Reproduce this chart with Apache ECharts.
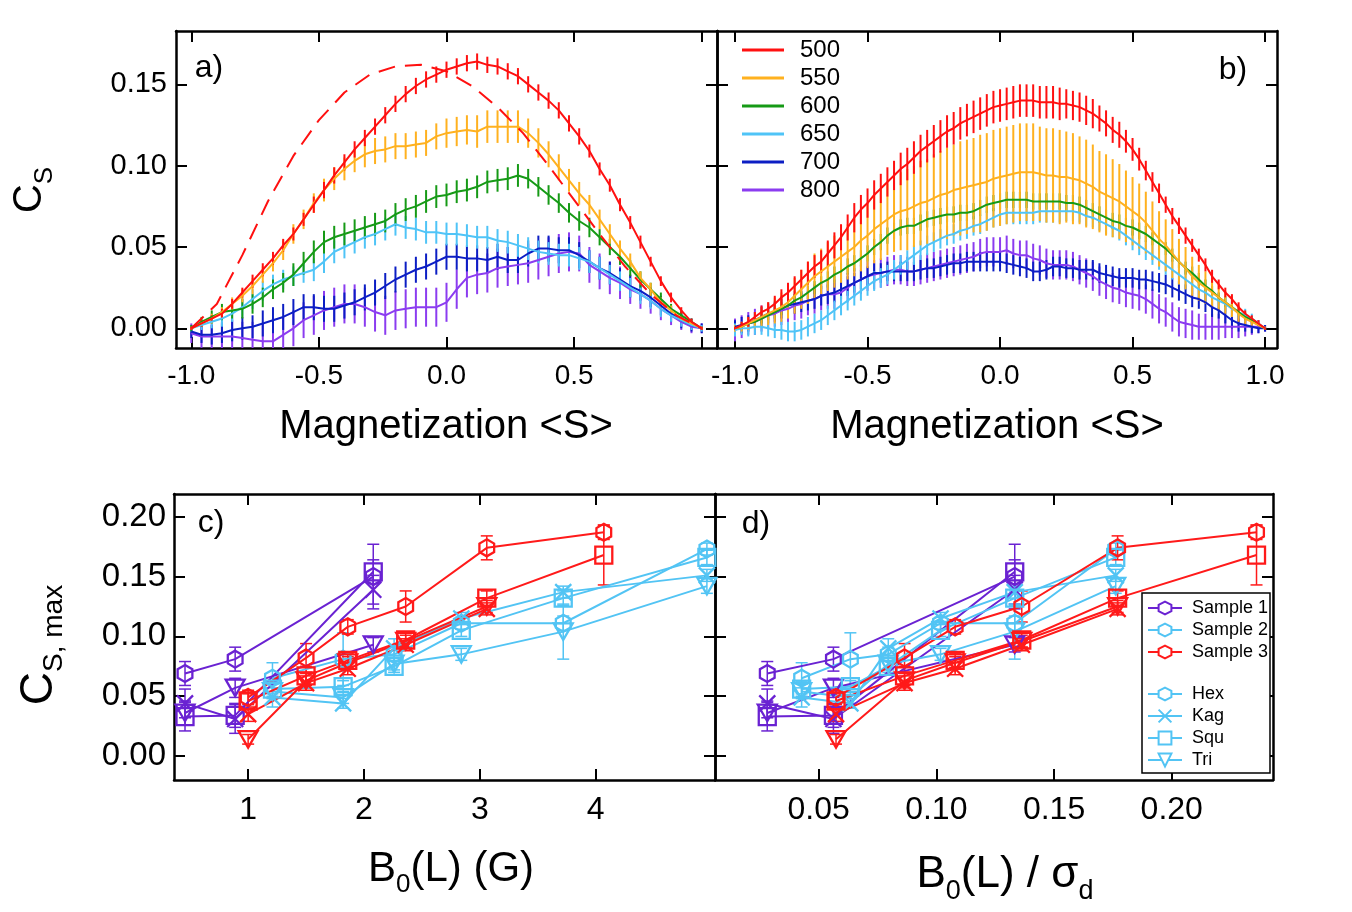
<!DOCTYPE html>
<html>
<head>
<meta charset="utf-8">
<script src="https://cdn.jsdelivr.net/npm/echarts/dist/echarts.min.js"></script>
<style>
html, body { margin: 0; padding: 0; background: #fff; }
#chart { width: 1352px; height: 912px; }
</style>
</head>
<body>
<div id="chart"></div>
<script>
// ---- panel a: C_S vs magnetization (field cooling temperatures) ----
const magA = [-1.00, -0.96, -0.92, -0.88, -0.84, -0.80, -0.76, -0.72, -0.68, -0.64,
  -0.60, -0.56, -0.52, -0.48, -0.44, -0.40, -0.36, -0.32, -0.28, -0.24,
  -0.20, -0.16, -0.12, -0.08, -0.04, 0.00, 0.04, 0.08, 0.12, 0.16,
  0.20, 0.24, 0.28, 0.32, 0.36, 0.40, 0.44, 0.48, 0.52, 0.56,
  0.60, 0.64, 0.68, 0.72, 0.76, 0.80, 0.84, 0.88, 0.92, 0.96, 1.00]

const a500 = [0.000, 0.003, 0.006, 0.009, 0.015, 0.022, 0.029, 0.036, 0.043, 0.051,
  0.058, 0.067, 0.076, 0.085, 0.094, 0.102, 0.110, 0.117, 0.124, 0.131,
  0.138, 0.144, 0.149, 0.153, 0.156, 0.159, 0.161, 0.163, 0.164, 0.162,
  0.161, 0.158, 0.155, 0.150, 0.145, 0.140, 0.134, 0.126, 0.118, 0.109,
  0.098, 0.088, 0.076, 0.065, 0.053, 0.041, 0.029, 0.019, 0.011, 0.004, 0.000]
const a500Err = [0.001, 0.002, 0.002, 0.003, 0.003, 0.003, 0.004, 0.004, 0.004, 0.004,
  0.004, 0.004, 0.005, 0.005, 0.005, 0.005, 0.005, 0.005, 0.005, 0.005,
  0.005, 0.005, 0.005, 0.005, 0.005, 0.005, 0.005, 0.005, 0.005, 0.005,
  0.005, 0.005, 0.005, 0.005, 0.005, 0.005, 0.005, 0.005, 0.005, 0.004,
  0.004, 0.004, 0.004, 0.004, 0.004, 0.003, 0.003, 0.003, 0.002, 0.002, 0.001]

const a550 = [0.000, 0.003, 0.006, 0.010, 0.015, 0.020, 0.026, 0.033, 0.040, 0.048,
  0.058, 0.067, 0.077, 0.085, 0.092, 0.098, 0.103, 0.107, 0.109, 0.110,
  0.112, 0.112, 0.113, 0.114, 0.118, 0.120, 0.121, 0.122, 0.121, 0.124,
  0.124, 0.124, 0.124, 0.120, 0.114, 0.107, 0.099, 0.091, 0.083, 0.076,
  0.067, 0.058, 0.049, 0.041, 0.031, 0.024, 0.016, 0.011, 0.006, 0.003, 0.000]
const a550Err = [0.001, 0.002, 0.003, 0.003, 0.004, 0.004, 0.005, 0.005, 0.005, 0.006,
  0.006, 0.006, 0.006, 0.007, 0.007, 0.007, 0.007, 0.008, 0.008, 0.008,
  0.008, 0.008, 0.008, 0.008, 0.008, 0.009, 0.009, 0.009, 0.010, 0.010,
  0.010, 0.010, 0.010, 0.009, 0.009, 0.008, 0.008, 0.007, 0.007, 0.006,
  0.006, 0.006, 0.005, 0.005, 0.004, 0.004, 0.003, 0.003, 0.002, 0.002, 0.001]

const a600 = [0.000, 0.004, 0.007, 0.010, 0.011, 0.012, 0.015, 0.019, 0.024, 0.028,
  0.033, 0.040, 0.047, 0.053, 0.056, 0.058, 0.060, 0.062, 0.064, 0.066,
  0.070, 0.073, 0.075, 0.078, 0.081, 0.082, 0.084, 0.085, 0.087, 0.090,
  0.091, 0.092, 0.094, 0.092, 0.087, 0.082, 0.077, 0.071, 0.066, 0.062,
  0.056, 0.050, 0.044, 0.037, 0.030, 0.024, 0.018, 0.012, 0.008, 0.004, 0.000]
const a600Err = [0.002, 0.003, 0.004, 0.005, 0.005, 0.006, 0.006, 0.006, 0.006, 0.006,
  0.007, 0.007, 0.007, 0.007, 0.007, 0.007, 0.007, 0.007, 0.007, 0.007,
  0.007, 0.007, 0.007, 0.007, 0.007, 0.007, 0.007, 0.007, 0.007, 0.007,
  0.007, 0.007, 0.007, 0.006, 0.006, 0.006, 0.006, 0.006, 0.006, 0.006,
  0.005, 0.005, 0.005, 0.005, 0.005, 0.004, 0.004, 0.003, 0.003, 0.002, 0.001]

const a650 = [0.000, 0.002, 0.004, 0.006, 0.009, 0.013, 0.018, 0.023, 0.027, 0.030,
  0.032, 0.034, 0.036, 0.041, 0.047, 0.050, 0.053, 0.056, 0.058, 0.061,
  0.064, 0.062, 0.061, 0.059, 0.059, 0.058, 0.058, 0.057, 0.056, 0.056,
  0.054, 0.053, 0.051, 0.049, 0.047, 0.046, 0.045, 0.045, 0.043, 0.041,
  0.037, 0.033, 0.029, 0.025, 0.021, 0.017, 0.012, 0.008, 0.005, 0.002, 0.000]
const a650Err = [0.002, 0.003, 0.004, 0.005, 0.005, 0.006, 0.006, 0.006, 0.006, 0.006,
  0.006, 0.006, 0.007, 0.007, 0.007, 0.007, 0.007, 0.007, 0.007, 0.007,
  0.007, 0.007, 0.007, 0.007, 0.007, 0.007, 0.007, 0.007, 0.007, 0.007,
  0.007, 0.007, 0.007, 0.007, 0.007, 0.007, 0.007, 0.007, 0.007, 0.007,
  0.007, 0.006, 0.006, 0.006, 0.006, 0.005, 0.005, 0.004, 0.004, 0.003, 0.002]

const a700 = [-0.002, -0.004, -0.004, -0.003, -0.001, 0.000, 0.001, 0.003, 0.005, 0.007,
  0.010, 0.013, 0.013, 0.012, 0.012, 0.014, 0.016, 0.019, 0.022, 0.026,
  0.030, 0.033, 0.036, 0.038, 0.041, 0.044, 0.044, 0.043, 0.043, 0.042,
  0.044, 0.042, 0.042, 0.046, 0.049, 0.049, 0.048, 0.048, 0.045, 0.041,
  0.037, 0.034, 0.030, 0.026, 0.023, 0.019, 0.014, 0.009, 0.005, 0.002, 0.000]
const a700Err = [0.004, 0.005, 0.006, 0.006, 0.007, 0.007, 0.007, 0.008, 0.008, 0.008,
  0.008, 0.008, 0.008, 0.008, 0.008, 0.008, 0.008, 0.008, 0.008, 0.008,
  0.008, 0.008, 0.008, 0.008, 0.008, 0.008, 0.008, 0.008, 0.008, 0.008,
  0.008, 0.008, 0.008, 0.008, 0.008, 0.008, 0.008, 0.008, 0.008, 0.007,
  0.007, 0.007, 0.007, 0.007, 0.006, 0.006, 0.006, 0.005, 0.005, 0.004, 0.003]

const a800 = [-0.003, -0.005, -0.005, -0.005, -0.005, -0.006, -0.007, -0.008, -0.008, -0.004,
  0.000, 0.005, 0.008, 0.011, 0.013, 0.015, 0.015, 0.013, 0.010, 0.008,
  0.011, 0.012, 0.013, 0.013, 0.013, 0.016, 0.024, 0.031, 0.033, 0.034,
  0.037, 0.038, 0.039, 0.040, 0.042, 0.044, 0.046, 0.047, 0.046, 0.039,
  0.035, 0.031, 0.028, 0.024, 0.021, 0.017, 0.012, 0.008, 0.004, 0.001, 0.000]
const a800Err = [0.006, 0.007, 0.008, 0.009, 0.010, 0.010, 0.011, 0.011, 0.011, 0.011,
  0.011, 0.011, 0.012, 0.012, 0.012, 0.012, 0.012, 0.012, 0.012, 0.012,
  0.012, 0.012, 0.012, 0.012, 0.012, 0.012, 0.012, 0.012, 0.012, 0.012,
  0.012, 0.012, 0.012, 0.012, 0.012, 0.012, 0.012, 0.012, 0.011, 0.011,
  0.011, 0.010, 0.010, 0.009, 0.009, 0.008, 0.007, 0.006, 0.005, 0.004, 0.003]

// dashed red reference curve in panel a
const dashMag = [-1.0, -0.9, -0.8, -0.7, -0.6, -0.5, -0.4, -0.3, -0.2, -0.1, 0.0,
  0.1, 0.2, 0.3, 0.4, 0.5, 0.6, 0.7, 0.8, 0.9, 1.0]
const dashCs = [0.000, 0.015, 0.045, 0.078, 0.106, 0.128, 0.145, 0.156, 0.161, 0.162, 0.158,
  0.149, 0.136, 0.120, 0.100, 0.079, 0.058, 0.038, 0.021, 0.008, 0.000]

// ---- panel b ----
const magB = [-1.000, -0.975, -0.950, -0.925, -0.900, -0.875, -0.850, -0.825, -0.800, -0.775,
  -0.750, -0.725, -0.700, -0.675, -0.650, -0.625, -0.600, -0.575, -0.550, -0.525,
  -0.500, -0.475, -0.450, -0.425, -0.400, -0.375, -0.350, -0.325, -0.300, -0.275,
  -0.250, -0.225, -0.200, -0.175, -0.150, -0.125, -0.100, -0.075, -0.050, -0.025,
  0.000, 0.025, 0.050, 0.075, 0.100, 0.125, 0.150, 0.175, 0.200, 0.225,
  0.250, 0.275, 0.300, 0.325, 0.350, 0.375, 0.400, 0.425, 0.450, 0.475,
  0.500, 0.525, 0.550, 0.575, 0.600, 0.625, 0.650, 0.675, 0.700, 0.725,
  0.750, 0.775, 0.800, 0.825, 0.850, 0.875, 0.900, 0.925, 0.950, 0.975, 1.000]

const b500 = [0.000, 0.002, 0.004, 0.007, 0.010, 0.012, 0.015, 0.019, 0.022, 0.026,
  0.030, 0.034, 0.038, 0.041, 0.046, 0.051, 0.056, 0.062, 0.068, 0.073,
  0.077, 0.082, 0.086, 0.090, 0.094, 0.098, 0.101, 0.105, 0.109, 0.112,
  0.115, 0.118, 0.121, 0.123, 0.126, 0.128, 0.130, 0.132, 0.134, 0.136,
  0.137, 0.138, 0.139, 0.140, 0.140, 0.140, 0.139, 0.139, 0.139, 0.138,
  0.138, 0.137, 0.136, 0.134, 0.132, 0.129, 0.126, 0.122, 0.119, 0.115,
  0.110, 0.104, 0.097, 0.090, 0.083, 0.076, 0.069, 0.063, 0.057, 0.051,
  0.045, 0.039, 0.032, 0.027, 0.022, 0.018, 0.013, 0.009, 0.006, 0.003, 0.000]
const b500Err = [0.001, 0.002, 0.003, 0.003, 0.004, 0.004, 0.005, 0.005, 0.006, 0.006,
  0.006, 0.007, 0.007, 0.007, 0.008, 0.008, 0.008, 0.008, 0.009, 0.009,
  0.009, 0.009, 0.009, 0.009, 0.009, 0.010, 0.010, 0.010, 0.010, 0.010,
  0.010, 0.010, 0.010, 0.010, 0.010, 0.010, 0.010, 0.010, 0.010, 0.010,
  0.010, 0.010, 0.010, 0.010, 0.010, 0.010, 0.010, 0.010, 0.010, 0.010,
  0.009, 0.009, 0.009, 0.009, 0.009, 0.008, 0.008, 0.008, 0.008, 0.007,
  0.007, 0.007, 0.006, 0.006, 0.006, 0.005, 0.005, 0.005, 0.005, 0.004,
  0.004, 0.004, 0.004, 0.003, 0.003, 0.003, 0.003, 0.002, 0.002, 0.002, 0.001]

const b550 = [0.000, 0.001, 0.003, 0.005, 0.007, 0.009, 0.011, 0.013, 0.016, 0.020,
  0.024, 0.028, 0.032, 0.035, 0.038, 0.041, 0.044, 0.047, 0.050, 0.054,
  0.057, 0.061, 0.064, 0.067, 0.070, 0.072, 0.073, 0.075, 0.077, 0.078,
  0.080, 0.082, 0.083, 0.085, 0.086, 0.087, 0.088, 0.089, 0.090, 0.092,
  0.093, 0.094, 0.095, 0.096, 0.096, 0.096, 0.095, 0.094, 0.094, 0.093,
  0.093, 0.092, 0.091, 0.089, 0.087, 0.084, 0.082, 0.080, 0.078, 0.075,
  0.072, 0.069, 0.065, 0.060, 0.055, 0.051, 0.046, 0.041, 0.037, 0.032,
  0.028, 0.025, 0.022, 0.019, 0.016, 0.013, 0.009, 0.006, 0.004, 0.002, 0.000]
const b550Err = [0.002, 0.003, 0.004, 0.005, 0.006, 0.007, 0.008, 0.009, 0.010, 0.011,
  0.012, 0.013, 0.014, 0.014, 0.015, 0.016, 0.016, 0.017, 0.018, 0.019,
  0.020, 0.021, 0.022, 0.022, 0.023, 0.024, 0.025, 0.025, 0.026, 0.026,
  0.027, 0.027, 0.028, 0.028, 0.029, 0.029, 0.029, 0.030, 0.030, 0.030,
  0.030, 0.030, 0.030, 0.030, 0.030, 0.030, 0.029, 0.029, 0.029, 0.029,
  0.028, 0.028, 0.027, 0.027, 0.026, 0.025, 0.025, 0.024, 0.023, 0.022,
  0.021, 0.020, 0.019, 0.018, 0.017, 0.016, 0.015, 0.014, 0.013, 0.012,
  0.011, 0.010, 0.009, 0.008, 0.007, 0.006, 0.005, 0.004, 0.003, 0.002, 0.001]

const b600 = [0.000, 0.001, 0.003, 0.004, 0.006, 0.008, 0.010, 0.012, 0.014, 0.017,
  0.019, 0.022, 0.025, 0.028, 0.030, 0.033, 0.035, 0.038, 0.040, 0.043,
  0.046, 0.050, 0.053, 0.057, 0.060, 0.062, 0.063, 0.063, 0.065, 0.067,
  0.068, 0.069, 0.070, 0.070, 0.071, 0.071, 0.072, 0.074, 0.076, 0.077,
  0.078, 0.079, 0.079, 0.079, 0.079, 0.078, 0.078, 0.078, 0.078, 0.078,
  0.077, 0.077, 0.076, 0.074, 0.072, 0.070, 0.068, 0.066, 0.065, 0.063,
  0.062, 0.060, 0.058, 0.055, 0.052, 0.049, 0.045, 0.041, 0.037, 0.034,
  0.030, 0.026, 0.023, 0.019, 0.016, 0.013, 0.010, 0.007, 0.005, 0.002, 0.000]
const b600Err = [0.001, 0.002, 0.002, 0.003, 0.003, 0.003, 0.004, 0.004, 0.004, 0.004,
  0.004, 0.004, 0.004, 0.004, 0.005, 0.005, 0.005, 0.005, 0.005, 0.005,
  0.005, 0.005, 0.005, 0.005, 0.005, 0.005, 0.005, 0.005, 0.005, 0.005,
  0.005, 0.005, 0.005, 0.005, 0.005, 0.005, 0.005, 0.005, 0.005, 0.005,
  0.005, 0.005, 0.005, 0.005, 0.005, 0.005, 0.005, 0.005, 0.005, 0.005,
  0.005, 0.005, 0.005, 0.005, 0.005, 0.005, 0.005, 0.005, 0.005, 0.005,
  0.005, 0.005, 0.005, 0.004, 0.004, 0.004, 0.004, 0.004, 0.004, 0.004,
  0.004, 0.004, 0.003, 0.003, 0.003, 0.003, 0.002, 0.002, 0.002, 0.001, 0.001]

const b650 = [-0.001, 0.000, 0.000, 0.001, 0.001, 0.000, -0.001, -0.001, -0.002, -0.002,
  -0.001, 0.001, 0.003, 0.005, 0.008, 0.011, 0.014, 0.017, 0.020, 0.023,
  0.026, 0.029, 0.031, 0.033, 0.036, 0.039, 0.042, 0.045, 0.048, 0.051,
  0.053, 0.055, 0.057, 0.058, 0.060, 0.061, 0.063, 0.064, 0.066, 0.068,
  0.070, 0.071, 0.071, 0.071, 0.071, 0.071, 0.072, 0.072, 0.072, 0.072,
  0.072, 0.072, 0.071, 0.069, 0.068, 0.066, 0.064, 0.062, 0.060, 0.057,
  0.054, 0.051, 0.048, 0.045, 0.042, 0.039, 0.036, 0.033, 0.030, 0.027,
  0.024, 0.022, 0.019, 0.017, 0.015, 0.012, 0.010, 0.008, 0.006, 0.003, 0.000]
const b650Err = [0.004, 0.004, 0.005, 0.005, 0.005, 0.005, 0.005, 0.006, 0.006, 0.006,
  0.006, 0.006, 0.006, 0.006, 0.006, 0.006, 0.006, 0.006, 0.006, 0.006,
  0.006, 0.006, 0.006, 0.006, 0.006, 0.006, 0.006, 0.006, 0.006, 0.006,
  0.006, 0.006, 0.006, 0.006, 0.006, 0.006, 0.006, 0.006, 0.006, 0.006,
  0.007, 0.007, 0.007, 0.007, 0.007, 0.007, 0.007, 0.007, 0.007, 0.007,
  0.006, 0.006, 0.006, 0.006, 0.006, 0.006, 0.006, 0.006, 0.006, 0.006,
  0.006, 0.006, 0.006, 0.006, 0.006, 0.006, 0.006, 0.006, 0.006, 0.006,
  0.006, 0.006, 0.005, 0.005, 0.005, 0.005, 0.004, 0.004, 0.003, 0.002, 0.001]

const b700 = [0.001, 0.002, 0.003, 0.005, 0.007, 0.009, 0.010, 0.012, 0.014, 0.015,
  0.016, 0.017, 0.018, 0.020, 0.021, 0.022, 0.024, 0.026, 0.028, 0.030,
  0.032, 0.034, 0.034, 0.035, 0.035, 0.035, 0.035, 0.035, 0.036, 0.037,
  0.037, 0.038, 0.039, 0.040, 0.040, 0.041, 0.041, 0.041, 0.041, 0.041,
  0.041, 0.040, 0.039, 0.038, 0.037, 0.035, 0.035, 0.036, 0.038, 0.038,
  0.037, 0.037, 0.036, 0.036, 0.036, 0.034, 0.033, 0.032, 0.031, 0.031,
  0.031, 0.030, 0.030, 0.029, 0.028, 0.027, 0.025, 0.023, 0.021, 0.019,
  0.018, 0.016, 0.013, 0.011, 0.008, 0.005, 0.003, 0.002, 0.001, 0.000, 0.000]
const b700Err = [0.004, 0.005, 0.005, 0.005, 0.006, 0.006, 0.006, 0.006, 0.006, 0.006,
  0.006, 0.006, 0.006, 0.006, 0.006, 0.006, 0.006, 0.006, 0.006, 0.006,
  0.006, 0.006, 0.006, 0.006, 0.006, 0.006, 0.006, 0.006, 0.006, 0.006,
  0.006, 0.006, 0.006, 0.006, 0.006, 0.006, 0.006, 0.006, 0.006, 0.006,
  0.006, 0.006, 0.006, 0.006, 0.006, 0.006, 0.006, 0.006, 0.006, 0.006,
  0.006, 0.006, 0.006, 0.006, 0.006, 0.006, 0.006, 0.006, 0.006, 0.006,
  0.006, 0.006, 0.006, 0.006, 0.006, 0.006, 0.006, 0.006, 0.006, 0.006,
  0.006, 0.006, 0.006, 0.005, 0.005, 0.005, 0.005, 0.004, 0.004, 0.003, 0.002]

const b800 = [-0.001, 0.001, 0.003, 0.004, 0.006, 0.008, 0.009, 0.011, 0.012, 0.014,
  0.015, 0.017, 0.018, 0.020, 0.021, 0.021, 0.022, 0.025, 0.028, 0.030,
  0.032, 0.033, 0.034, 0.035, 0.036, 0.036, 0.035, 0.035, 0.036, 0.037,
  0.038, 0.039, 0.040, 0.041, 0.042, 0.043, 0.044, 0.046, 0.047, 0.047,
  0.047, 0.048, 0.046, 0.045, 0.045, 0.043, 0.042, 0.040, 0.039, 0.039,
  0.039, 0.038, 0.036, 0.034, 0.032, 0.029, 0.027, 0.025, 0.024, 0.022,
  0.021, 0.020, 0.018, 0.015, 0.012, 0.010, 0.007, 0.004, 0.003, 0.002,
  0.001, 0.001, 0.001, 0.001, 0.001, 0.001, 0.001, 0.001, 0.001, 0.001, 0.000]
const b800Err = [0.007, 0.007, 0.007, 0.008, 0.008, 0.008, 0.008, 0.009, 0.009, 0.009,
  0.009, 0.009, 0.009, 0.009, 0.009, 0.009, 0.009, 0.009, 0.009, 0.009,
  0.009, 0.009, 0.009, 0.009, 0.009, 0.009, 0.009, 0.009, 0.009, 0.009,
  0.009, 0.009, 0.009, 0.009, 0.009, 0.009, 0.009, 0.009, 0.009, 0.009,
  0.009, 0.009, 0.009, 0.009, 0.009, 0.009, 0.009, 0.009, 0.009, 0.009,
  0.009, 0.009, 0.009, 0.009, 0.009, 0.009, 0.009, 0.009, 0.009, 0.009,
  0.009, 0.009, 0.009, 0.009, 0.009, 0.009, 0.009, 0.009, 0.009, 0.009,
  0.008, 0.008, 0.008, 0.008, 0.007, 0.007, 0.007, 0.006, 0.005, 0.004, 0.002]

const tempNames = ['500', '550', '600', '650', '700', '800']

// ---- panels c, d: C_S,max vs B0(L) and B0(L)/sigma_d ----
const s1FieldC = [0.455, 0.888, 2.08]
const s1FieldD = [0.0282, 0.0563, 0.1333]
const s1Hex = [0.069, 0.081, 0.150], s1HexErr = [0.010, 0.010, 0.027]
const s1Kag = [0.044, 0.031, 0.139], s1KagErr = [0.012, 0.012, 0.012]
const s1Squ = [0.033, 0.034, 0.154], s1SquErr = [0.012, 0.010, 0.010]
const s1Tri = [0.036, 0.057, 0.093], s1TriErr = [0.010, 0.008, 0.006]

const s2FieldC = [1.21, 1.82, 2.26, 2.84, 3.72, 4.96]
const s2FieldD = [0.0428, 0.0635, 0.0796, 0.1018, 0.1333, 0.1762]
const s2Hex = [0.065, 0.081, 0.085, 0.111, 0.111, 0.173], s2HexErr = [0.013, 0.022, 0.006, 0.005, 0.006, 0.005]
const s2Kag = [0.049, 0.044, 0.090, 0.115, 0.137, 0.151], s2KagErr = [0.008, 0.004, 0.008, 0.005, 0.005, 0.005]
const s2Squ = [0.056, 0.058, 0.075, 0.105, 0.132, 0.166], s2SquErr = [0.006, 0.005, 0.005, 0.005, 0.006, 0.006]
const s2Tri = [0.054, 0.049, 0.077, 0.085, 0.104, 0.142], s2TriErr = [0.006, 0.005, 0.005, 0.005, 0.023, 0.006]

const s3FieldC = [1.0, 1.5, 1.86, 2.36, 3.06, 4.07]
const s3FieldD = [0.0574, 0.0865, 0.108, 0.1363, 0.177, 0.236]
const s3Hex = [0.049, 0.082, 0.108, 0.125, 0.174, 0.187], s3HexErr = [0.006, 0.012, 0.006, 0.013, 0.010, 0.006]
const s3Kag = [0.035, 0.061, 0.073, 0.093, 0.123, null], s3KagErr = [0.006, 0.006, 0.005, 0.005, 0.005, null]
const s3Squ = [0.046, 0.067, 0.080, 0.097, 0.132, 0.168], s3SquErr = [0.006, 0.008, 0.006, 0.006, 0.006, 0.025]
const s3Tri = [0.014, 0.063, 0.078, 0.096, 0.125, null], s3TriErr = [0.004, 0.006, 0.005, 0.005, 0.005, null]

const sampleNames = ['Sample 1', 'Sample 2', 'Sample 3']
const latticeNames = ['Hex', 'Kag', 'Squ', 'Tri']

const FONT = '"Liberation Sans", Arial, Helvetica, sans-serif'
const tempColors = ['#ff1010', '#ffb11f', '#169a16', '#4fc4f7', '#0c1ec4', '#8b3cf0']
const sampleColors = ['#6a22d2', '#52c4f4', '#ff1a1a']
const SYM = {
    Hex: 'path://M5 0L9.33 2.5L9.33 7.5L5 10L0.67 7.5L0.67 2.5Z',
    Kag: 'path://M0 0L10 10M10 0L0 10',
    Squ: 'rect',
    Tri: 'path://M0 0L10 0L5 8.7Z'
}
const SYMSIZE = { Hex: 17, Kag: 16, Squ: 17, Tri: 19 }

let myChart = echarts.init(document.getElementById('chart'))

function axes(dim, grid, min, max, ticks, labels, fmt, fontSize, margin) {
    const line = { show: true, onZero: false, lineStyle: { color: '#000', width: 2.5 } }
    const tick = { show: true, inside: true, length: 11, customValues: ticks, lineStyle: { color: '#000', width: 2 } }
    const main = {
        type: 'value', gridIndex: grid, min: min, max: max,
        position: dim === 'x' ? 'bottom' : 'left',
        axisLine: line, axisTick: tick, splitLine: { show: false },
        axisLabel: {
            show: labels.length > 0, customValues: labels, formatter: fmt,
            fontSize: fontSize, fontFamily: FONT, color: '#000', margin: margin
        }
    }
    const mirror = {
        type: 'value', gridIndex: grid, min: min, max: max,
        position: dim === 'x' ? 'top' : 'right',
        axisLine: line, axisTick: tick, splitLine: { show: false },
        axisLabel: { show: false }
    }
    return [main, mirror]
}

const f1 = v => v.toFixed(1)
const f2 = v => v.toFixed(2)
const f0 = v => String(v)

let xAxis = [].concat(
    axes('x', 0, -1.06, 1.06, [-1, -0.5, 0, 0.5, 1], [-1, -0.5, 0, 0.5], f1, 28, 14),
    axes('x', 1, -1.068, 1.045, [-1, -0.5, 0, 0.5, 1], [-1, -0.5, 0, 0.5, 1], f1, 28, 14),
    axes('x', 2, 0.36, 5.03, [1, 2, 3, 4], [1, 2, 3, 4], f0, 32, 14),
    axes('x', 3, 0.006, 0.243, [0.05, 0.1, 0.15, 0.2], [0.05, 0.1, 0.15, 0.2], f2, 32, 14)
)
let yAxis = [].concat(
    axes('y', 0, -0.0121, 0.1828, [0, 0.05, 0.1, 0.15], [0, 0.05, 0.1, 0.15], f2, 29, 9),
    axes('y', 1, -0.0121, 0.1828, [0, 0.05, 0.1, 0.15], [], f2, 29, 9),
    axes('y', 2, -0.020, 0.219, [0, 0.05, 0.1, 0.15, 0.2], [0, 0.05, 0.1, 0.15, 0.2], f2, 33, 8),
    axes('y', 3, -0.020, 0.219, [0, 0.05, 0.1, 0.15, 0.2], [], f2, 33, 8)
)

function errorBars(ax, xs, ys, es, color, cap, width) {
    const data = []
    xs.forEach((x, i) => {
        if (ys[i] != null) data.push([x, ys[i] - es[i], ys[i] + es[i]])
    })
    return {
        type: 'custom', xAxisIndex: ax, yAxisIndex: ax, silent: true, clip: true, z: 2,
        data: data,
        encode: { x: 0, y: [1, 2] },
        renderItem: function (params, api) {
            const lo = api.coord([api.value(0), api.value(1)])
            const hi = api.coord([api.value(0), api.value(2)])
            const style = { stroke: color, lineWidth: width }
            const children = [{ type: 'line', shape: { x1: lo[0], y1: lo[1], x2: hi[0], y2: hi[1] }, style: style }]
            if (cap) {
                children.push({ type: 'line', shape: { x1: lo[0] - cap, y1: lo[1], x2: lo[0] + cap, y2: lo[1] }, style: style })
                children.push({ type: 'line', shape: { x1: hi[0] - cap, y1: hi[1], x2: hi[0] + cap, y2: hi[1] }, style: style })
            }
            return { type: 'group', children: children }
        }
    }
}

function curve(ax, name, xs, ys, color, dash) {
    return {
        type: 'line', name: name, xAxisIndex: ax, yAxisIndex: ax,
        data: xs.map((x, i) => [x, ys[i]]),
        symbol: 'none', showSymbol: false, silent: true, z: 3,
        lineStyle: { color: color, width: 2, type: dash || 'solid' },
        itemStyle: { color: color }
    }
}

let series = []
const panelA = [[a500, a500Err], [a550, a550Err], [a600, a600Err], [a650, a650Err], [a700, a700Err], [a800, a800Err]]
const panelB = [[b500, b500Err], [b550, b550Err], [b600, b600Err], [b650, b650Err], [b700, b700Err], [b800, b800Err]]
// draw 800 first so that 500 ends on top
for (let i = tempNames.length - 1; i >= 0; i--) {
    series.push(errorBars(0, magA, panelA[i][0], panelA[i][1], tempColors[i], 0, 2))
    series.push(curve(0, 'a' + tempNames[i], magA, panelA[i][0], tempColors[i]))
    series.push(errorBars(2, magB, panelB[i][0], panelB[i][1], tempColors[i], 0, 2))
    series.push(curve(2, tempNames[i], magB, panelB[i][0], tempColors[i]))
}
series.push(curve(0, 'dashed', dashMag, dashCs, tempColors[0], [17, 10]))

const samples = [
    { fc: s1FieldC, fd: s1FieldD, y: [s1Hex, s1Kag, s1Squ, s1Tri], e: [s1HexErr, s1KagErr, s1SquErr, s1TriErr] },
    { fc: s2FieldC, fd: s2FieldD, y: [s2Hex, s2Kag, s2Squ, s2Tri], e: [s2HexErr, s2KagErr, s2SquErr, s2TriErr] },
    { fc: s3FieldC, fd: s3FieldD, y: [s3Hex, s3Kag, s3Squ, s3Tri], e: [s3HexErr, s3KagErr, s3SquErr, s3TriErr] }
]
samples.forEach((s, si) => {
    const color = sampleColors[si]
    ;[[4, s.fc], [6, s.fd]].forEach(([ax, fx]) => {
        latticeNames.forEach((lt, li) => {
            const pts = []
            fx.forEach((x, i) => { if (s.y[li][i] != null) pts.push([x, s.y[li][i]]) })
            series.push(errorBars(ax, fx, s.y[li], s.e[li], color, 6, 1.5))
            series.push({
                type: 'line', name: 's' + si + lt + ax, xAxisIndex: ax, yAxisIndex: ax,
                data: pts, symbol: SYM[lt], symbolSize: SYMSIZE[lt], symbolKeepAspect: true,
                showSymbol: true, silent: true, z: 3,
                lineStyle: { color: color, width: 2 },
                itemStyle: { color: 'rgba(0,0,0,0)', borderColor: color, borderWidth: 2.3 }
            })
        })
    })
})

// empty series that only feed the legend of panel d
sampleNames.forEach((n, i) => {
    series.push({
        type: 'line', name: n, xAxisIndex: 6, yAxisIndex: 6, data: [],
        symbol: SYM.Hex, symbolKeepAspect: true,
        lineStyle: { color: sampleColors[i], width: 2 },
        itemStyle: { color: '#fff', borderColor: sampleColors[i], borderWidth: 2 }
    })
})
latticeNames.forEach(n => {
    series.push({
        type: 'line', name: n, xAxisIndex: 6, yAxisIndex: 6, data: [],
        symbol: SYM[n], symbolKeepAspect: true,
        lineStyle: { color: sampleColors[1], width: 2 },
        itemStyle: { color: '#fff', borderColor: sampleColors[1], borderWidth: 2 }
    })
})

function text(x, y, str, size, extra) {
    return Object.assign({
        type: 'text', x: x, y: y, z: 50,
        style: { text: str, fontSize: size, fontFamily: FONT, fill: '#000', align: 'center', verticalAlign: 'middle' }
    }, extra || {})
}
function subText(x, y, str, main, sub, pad, rot) {
    return {
        type: 'text', x: x, y: y, z: 50, rotation: rot || 0,
        style: {
            text: str, align: 'center', verticalAlign: 'middle', fill: '#000',
            rich: {
                m: { fontSize: main, fontFamily: FONT, fill: '#000', lineHeight: main + 6, verticalAlign: 'top' },
                s: { fontSize: sub, fontFamily: FONT, fill: '#000', lineHeight: sub + 4, verticalAlign: 'top', padding: [pad, 0, 0, 0] }
            }
        }
    }
}

const legendText = { fontSize: 18, lineHeight: 22, fontFamily: FONT, color: '#000', padding: [0, 0, 0, 5] }

let option = {
    animation: false,
    backgroundColor: '#fff',
    grid: [
        { left: 176, top: 31, width: 541, height: 317, containLabel: false, outerBoundsMode: 'none' },
        { left: 717, top: 31, width: 560, height: 317, containLabel: false, outerBoundsMode: 'none' },
        { left: 174, top: 494, width: 541, height: 286, containLabel: false, outerBoundsMode: 'none' },
        { left: 715, top: 494, width: 558, height: 286, containLabel: false, outerBoundsMode: 'none' }
    ],
    xAxis: xAxis,
    yAxis: yAxis,
    legend: [
        {
            data: tempNames.map(n => ({ name: n, icon: 'rect' })),
            orient: 'vertical', left: 742, top: 36, padding: 0,
            itemWidth: 42, itemHeight: 3, itemGap: 0, selectedMode: false,
            textStyle: { fontSize: 24, lineHeight: 28, fontFamily: FONT, color: '#000', padding: [0, 0, 0, 11] }
        },
        {
            data: sampleNames, orient: 'vertical', left: 1147, top: 597, padding: 0, z: 20,
            itemWidth: 34, itemHeight: 16, itemGap: 0, selectedMode: false,
            itemStyle: { color: '#fff' }, textStyle: legendText
        },
        {
            data: latticeNames, orient: 'vertical', left: 1147, top: 683, padding: 0, z: 20,
            itemWidth: 34, itemHeight: 16, itemGap: 0, selectedMode: false,
            itemStyle: { color: '#fff' }, textStyle: legendText
        }
    ],
    graphic: [
        { type: 'rect', z: 10, shape: { x: 1142, y: 593, width: 128, height: 180 }, style: { fill: '#fff', stroke: '#000', lineWidth: 1.5 } },
        text(446, 427, 'Magnetization <S>', 40),
        text(997, 427, 'Magnetization <S>', 40),
        text(209, 68, 'a)', 32),
        text(1233, 70, 'b)', 32),
        text(211, 523, 'c)', 32),
        text(756, 524, 'd)', 32),
        subText(451, 872, '{m|B}{s|0}{m|(L) (G)}', 42, 26, 24),
        subText(1005, 878, '{m|B}{s|0}{m|(L) / σ}{s|d}', 44, 27, 25),
        subText(33, 190, '{m|C}{s|S}', 40, 26, 22, Math.PI / 2),
        subText(42, 645, '{m|C}{s|S, max}', 46, 28, 24, Math.PI / 2)
    ],
    series: series
}

myChart.setOption(option)
</script>
</body>
</html>
